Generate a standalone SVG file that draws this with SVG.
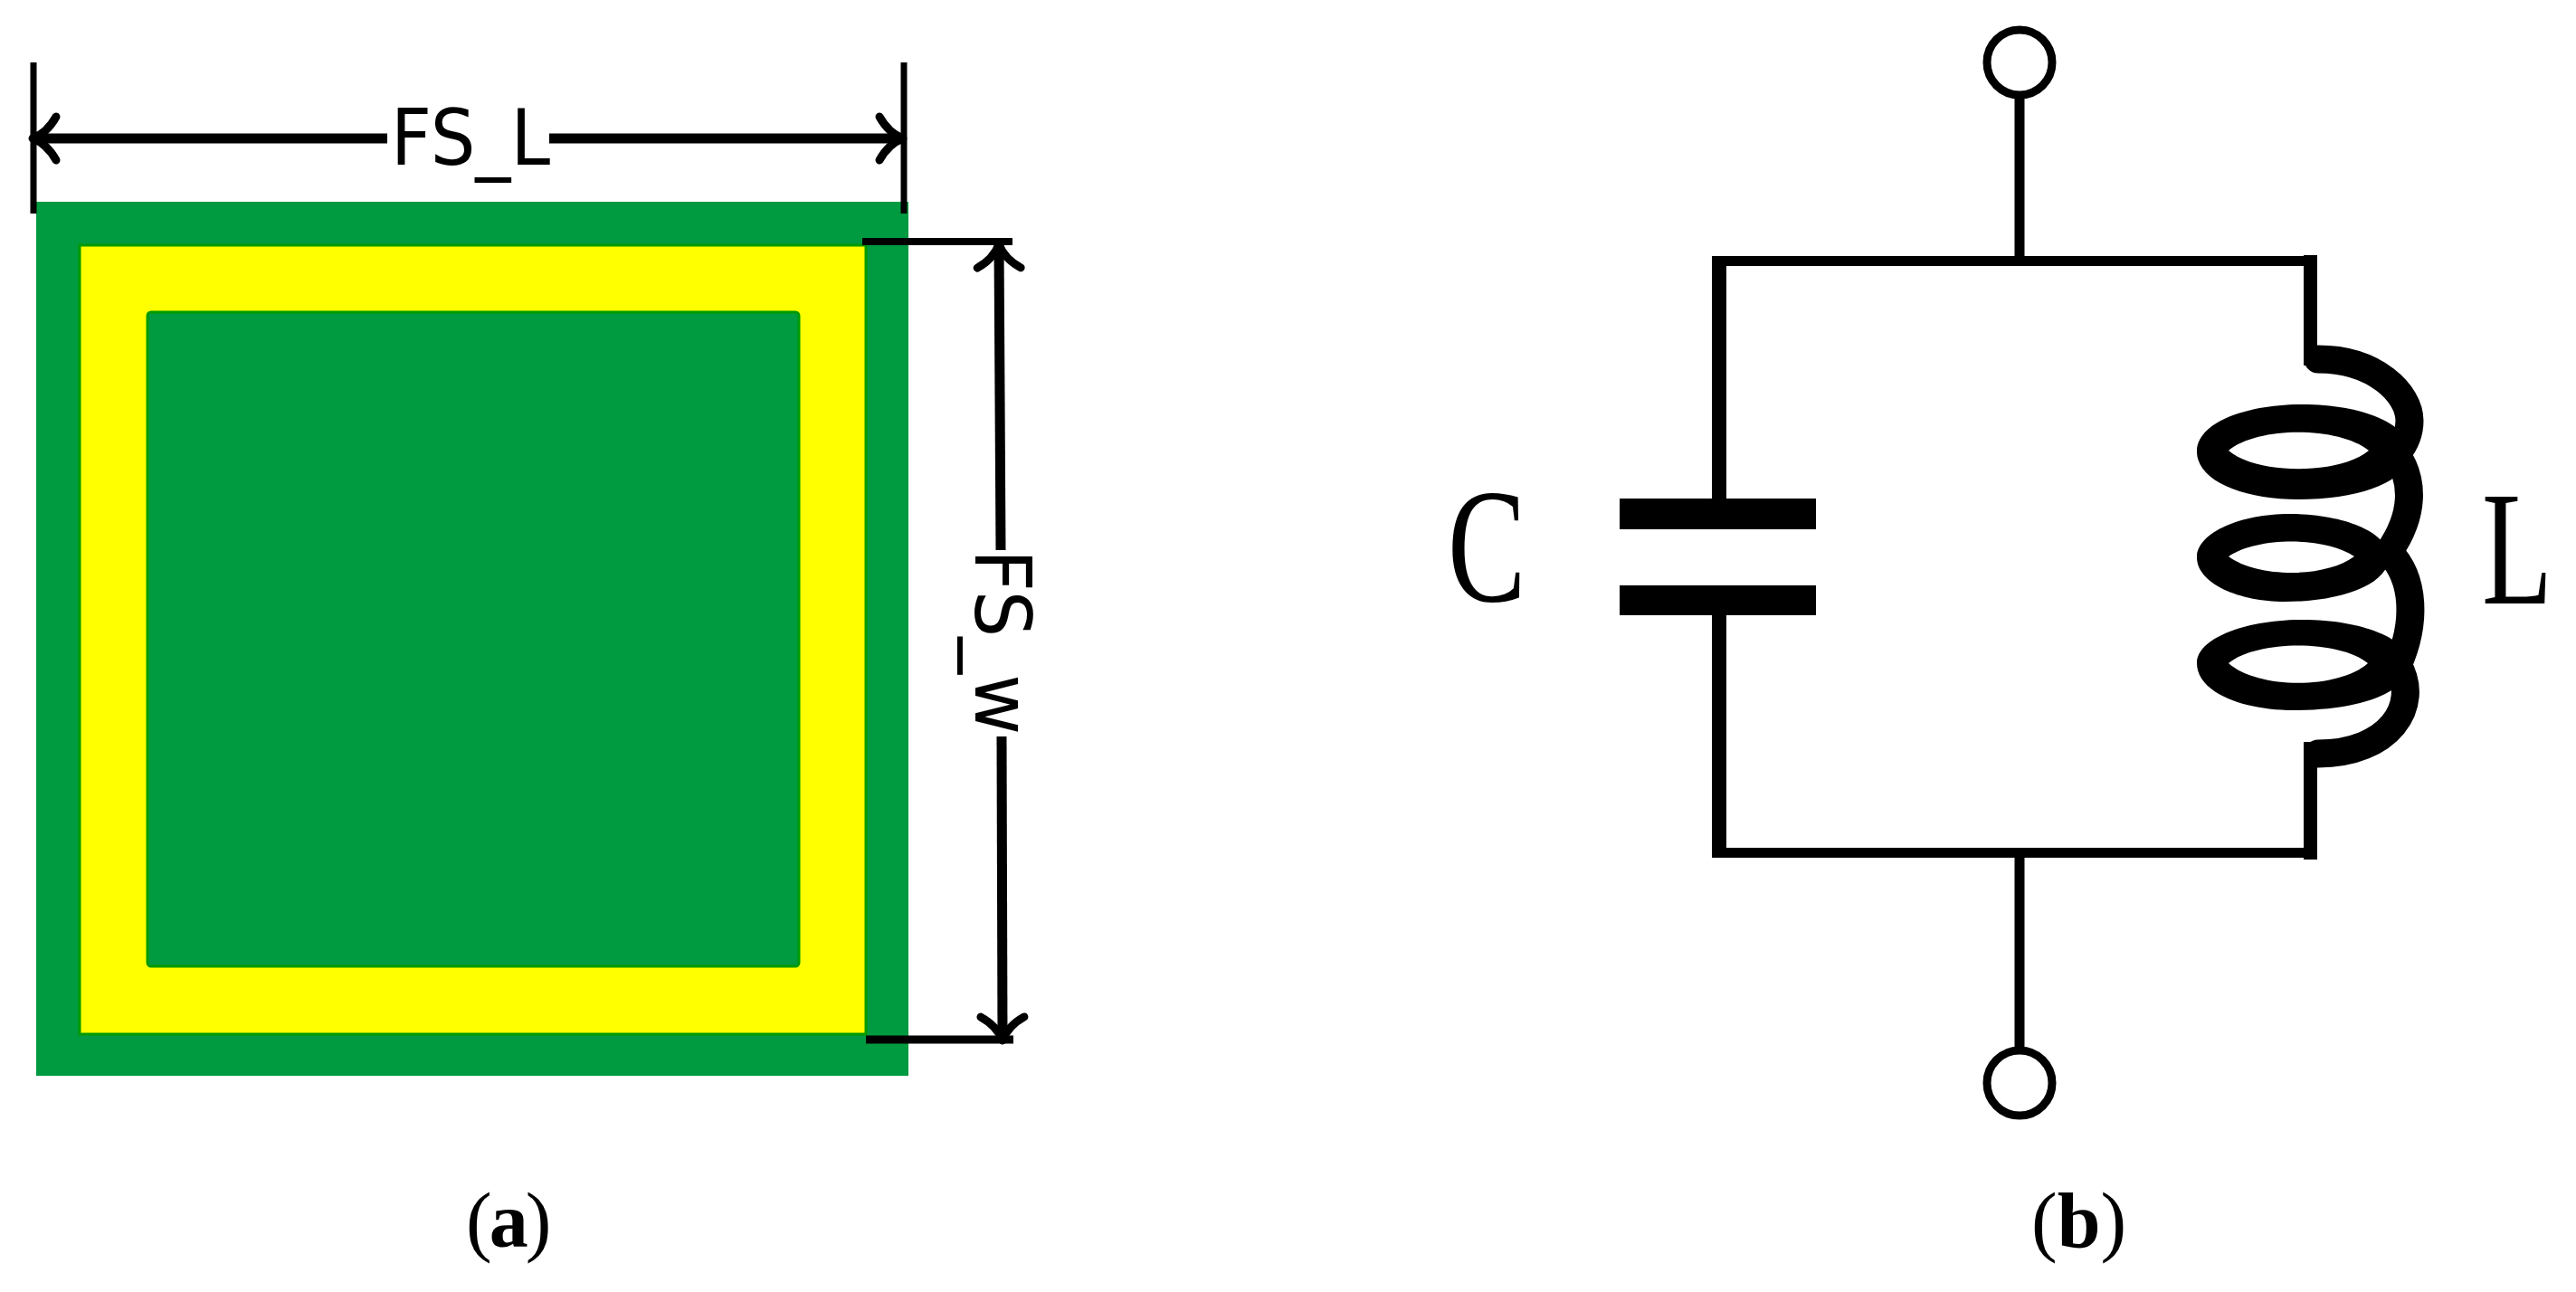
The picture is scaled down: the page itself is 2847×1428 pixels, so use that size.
<svg xmlns="http://www.w3.org/2000/svg" width="2847" height="1428" viewBox="0 0 2847 1428">
<style>
.dim{font-family:"DejaVu Sans",sans-serif;font-size:85px;fill:#000}
.cap{font-family:"Liberation Serif",serif;font-size:86px;fill:#000}
.sym{font-family:"Liberation Serif",serif;font-size:180px;fill:#000}
.dl{stroke:#000;stroke-width:11;fill:none}
.tick{stroke:#000;stroke-width:7;fill:none}
.w{stroke:#000;fill:none}
.coil{fill:#000;fill-rule:evenodd}
.strand{stroke:#000;stroke-width:31;fill:none;stroke-linecap:round}
.term{fill:#fff;stroke:#000;stroke-width:9}
</style>
<defs>
<marker id="arrow" markerUnits="userSpaceOnUse" markerWidth="80" markerHeight="80" refX="40" refY="40" viewBox="0 0 80 80" orient="auto-start-reverse" overflow="visible">
<path d="M14,16 Q24,34 40,40 Q24,46 14,64" fill="none" stroke="#000" stroke-width="9" stroke-linecap="round" stroke-linejoin="round"/>
</marker>
</defs>
<rect width="2847" height="1428" fill="#fff"/>
<g id="panel-a">
<rect id="outer-patch" x="40" y="223" width="964" height="966" fill="#009a40"/>
<rect id="ring" x="88" y="271" width="869" height="872" fill="#ffff00" stroke="#009a00" stroke-width="3"/>
<rect id="inner-patch" x="163" y="345" width="720" height="723" rx="4" fill="#009a40" stroke="#009a00" stroke-width="3"/>
</g>
<g id="connectors">
<path class="tick" d="M37,69V236M999,69V236"/>
<path class="tick" d="M953,267H1119" style="stroke-width:8"/>
<path class="tick" d="M957,1149H1120" style="stroke-width:9"/>
<line class="dl" x1="428" y1="153" x2="36" y2="153" marker-end="url(#arrow)"/>
<line class="dl" x1="607" y1="153" x2="998" y2="153" marker-end="url(#arrow)"/>
<line class="dl" x1="1106" y1="608" x2="1104" y2="270" marker-end="url(#arrow)"/>
<line class="dl" x1="1107" y1="814" x2="1108" y2="1150" marker-end="url(#arrow)"/>
<line class="w" style="stroke-width:11" x1="2232" y1="106" x2="2232" y2="288"/>
<line class="w" style="stroke-width:11" x1="2232" y1="942" x2="2232" y2="1160"/>
<path class="w" style="stroke-width:11" d="M1892,288.500H2561M1892,942.500H2561"/>
<path class="w" style="stroke-width:16" d="M1900,283V555M1900,675V948"/>
<path class="w" style="stroke-width:15" d="M2553.500,282V404M2553.500,820V950"/>
</g>
<g id="label-fs-l"><text class="dim" x="432" y="182" textLength="176" lengthAdjust="spacingAndGlyphs">FS_L</text></g>
<g id="label-fs-w"><text class="dim" transform="translate(1078,607) rotate(90)" textLength="205" lengthAdjust="spacingAndGlyphs">FS_w</text></g>
<g id="label-a"><text class="cap" x="515" y="1378" letter-spacing="-3">(<tspan font-weight="bold">a</tspan>)</text></g>
<g id="terminal-top"><circle class="term" cx="2232" cy="69" r="36"/></g>
<g id="terminal-bottom"><circle class="term" cx="2232" cy="1197" r="36"/></g>
<g id="capacitor">
<rect x="1790" y="551" width="217" height="34" fill="#000"/>
<rect x="1790" y="647" width="217" height="33" fill="#000"/>
</g>
<g id="inductor">
<path class="strand" d="M2562,397C2625,397 2663,435 2663,465C2663,480 2658,490 2650,500"/>
<path class="strand" d="M2645,497C2670,530 2668,570 2640,610"/>
<path class="strand" d="M2640,610C2670,640 2670,690 2650,735"/>
<path class="strand" d="M2650,735C2676,780 2640,833 2562,833"/>
<path class="coil" d="M2428,499C2428,468 2480,447 2545,447C2610,447 2663,468 2663,499C2663,532 2610,552 2540,552C2480,552 2428,532 2428,499ZM2463,498C2495,471 2585,471 2618,498C2585,525 2495,525 2463,498Z"/>
<path class="coil" d="M2428,616C2428,588 2478,568 2530,568C2590,568 2640,588 2640,616C2640,645 2590,665 2525,665C2475,665 2428,645 2428,616ZM2463,615C2495,593 2570,593 2602,615C2570,639 2495,639 2463,615Z"/>
<path class="coil" d="M2428,733C2428,706 2480,685 2545,685C2610,685 2663,706 2663,733C2663,765 2610,785 2535,785C2478,785 2428,765 2428,733ZM2463,733C2495,707 2585,707 2617,733C2585,762 2495,762 2463,733Z"/>
</g>
<g id="label-c"><text class="sym" transform="translate(1600,664) scale(0.72,1)">C</text></g>
<g id="label-l"><text class="sym" transform="translate(2743,667) scale(0.71,1)">L</text></g>
<g id="label-b"><text class="cap" x="2245" y="1378">(<tspan font-weight="bold">b</tspan>)</text></g>
</svg>
